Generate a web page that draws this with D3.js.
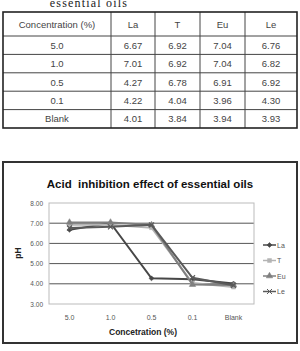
<!DOCTYPE html>
<html>
<head>
<meta charset="utf-8">
<script src="https://cdn.jsdelivr.net/npm/d3@7"></script>
<style>
body { margin: 0; background: #fff; }
svg { display: block; }
</style>
</head>
<body>
<svg width="300" height="351"></svg>
<script>
var svg = d3.select('svg');

//table + chart data
var concentrations = ['5.0', '1.0', '0.5', '0.1', 'Blank'];
var oils = ['La', 'T', 'Eu', 'Le'];
var la = [6.67, 7.01, 4.27, 4.22, 4.01];
var t  = [6.92, 6.92, 6.78, 4.04, 3.84];
var eu = [7.04, 7.04, 6.91, 3.96, 3.94];
var le = [6.76, 6.82, 6.92, 4.30, 3.93];
var yTicks = [3, 4, 5, 6, 7, 8];

var seriesList = [
    {name: 'La', values: la, color: '#474747', marker: 'diamond'},
    {name: 'T',  values: t,  color: '#b4b4b4', marker: 'square'},
    {name: 'Eu', values: eu, color: '#7f7f7f', marker: 'triangle'},
    {name: 'Le', values: le, color: '#5a5a5a', marker: 'cross'}
];

//caption, cut off at the top like the scan
svg.append('text')
    .attr('x', 89).attr('y', 7)
    .attr('text-anchor', 'middle')
    .attr('font-family', 'Liberation Serif, serif')
    .attr('font-size', 12)
    .attr('letter-spacing', 1.2)
    .attr('fill', '#222')
    .text('essential oils');

//table
var colX = [3, 111, 155, 200, 245, 297];
var rowY = [12, 36];
concentrations.forEach(function(c, i){ rowY.push(36 + (i + 1) * 18.4); });

var tbl = svg.append('g');
rowY.slice(1, -1).forEach(function(y){
    tbl.append('line').attr('x1', colX[0]).attr('x2', colX[5])
        .attr('y1', y).attr('y2', y).attr('stroke', '#444').attr('stroke-width', 1);
});
colX.slice(1, -1).forEach(function(x){
    tbl.append('line').attr('x1', x).attr('x2', x)
        .attr('y1', rowY[0]).attr('y2', rowY[rowY.length - 1]).attr('stroke', '#444').attr('stroke-width', 1);
});
tbl.append('rect').attr('x', colX[0]).attr('y', rowY[0])
    .attr('width', colX[5] - colX[0]).attr('height', rowY[rowY.length - 1] - rowY[0])
    .attr('fill', 'none').attr('stroke', '#222').attr('stroke-width', 1.6);

var header = ['Concentration (%)'].concat(oils);
var cells = [header];
concentrations.forEach(function(c, i){
    cells.push([c, la[i].toFixed(2), t[i].toFixed(2), eu[i].toFixed(2), le[i].toFixed(2)]);
});
cells.forEach(function(row, r){
    row.forEach(function(txt, k){
        tbl.append('text')
            .attr('x', (colX[k] + colX[k + 1]) / 2)
            .attr('y', (rowY[r] + rowY[r + 1]) / 2 + 3.5)
            .attr('text-anchor', 'middle')
            .attr('font-family', 'Liberation Sans, Arial, sans-serif')
            .attr('font-size', 9.5)
            .attr('fill', '#444')
            .text(txt);
    });
});

//chart frame
svg.append('rect').attr('x', 3).attr('y', 162).attr('width', 294).attr('height', 181)
    .attr('fill', '#fff').attr('stroke', '#333').attr('stroke-width', 2);

svg.append('text')
    .attr('x', 150).attr('y', 188)
    .attr('text-anchor', 'middle')
    .attr('font-family', 'Liberation Sans, Arial, sans-serif')
    .attr('font-weight', 'bold')
    .attr('font-size', 11.5)
    .attr('fill', '#111')
    .attr('xml:space', 'preserve')
    .text('Acid  inhibition effect of essential oils');

var x = d3.scaleBand().domain(concentrations).range([49, 254]);
var y = d3.scaleLinear().domain([3, 8]).range([304, 203]);

//grid lines
svg.append('g').selectAll('line')
    .data(yTicks.slice(1, -1))
    .enter()
    .append('line')
    .attr('x1', 49).attr('x2', 254)
    .attr('y1', function(d){ return y(d); })
    .attr('y2', function(d){ return y(d); })
    .attr('stroke', '#555').attr('stroke-width', 1);

svg.append('rect').attr('x', 49).attr('y', y(8)).attr('width', 205).attr('height', y(3) - y(8))
    .attr('fill', 'none').attr('stroke', '#bbb').attr('stroke-width', 1);

//y axis
var yAxis = svg.append('g')
    .attr('transform', 'translate(49,0)')
    .call(d3.axisLeft(y).tickValues(yTicks).tickSize(0).tickPadding(6).tickFormat(d3.format('.2f')));
yAxis.select('.domain').remove();
yAxis.selectAll('text').attr('font-family', 'Liberation Sans, Arial, sans-serif').attr('font-size', 6.5).attr('fill', '#555');

//x axis
var xAxis = svg.append('g')
    .attr('transform', 'translate(0,304)')
    .call(d3.axisBottom(x).tickSize(0).tickPadding(11));
xAxis.select('.domain').remove();
xAxis.selectAll('text').attr('font-family', 'Liberation Sans, Arial, sans-serif').attr('font-size', 7).attr('fill', '#555');

svg.append('text')
    .attr('x', 143).attr('y', 335)
    .attr('text-anchor', 'middle')
    .attr('font-family', 'Liberation Sans, Arial, sans-serif')
    .attr('font-weight', 'bold').attr('font-size', 8.5).attr('fill', '#222')
    .text('Concetration (%)');

svg.append('text')
    .attr('transform', 'translate(21,253) rotate(-90)')
    .attr('text-anchor', 'middle')
    .attr('font-family', 'Liberation Sans, Arial, sans-serif')
    .attr('font-weight', 'bold').attr('font-size', 8.5).attr('fill', '#222')
    .text('pH');

//marker shapes
function markerPath(type){
    if(type == 'diamond') return d3.symbol().type(d3.symbolDiamond2).size(16)();
    if(type == 'square') return d3.symbol().type(d3.symbolSquare).size(16)();
    if(type == 'triangle') return d3.symbol().type(d3.symbolTriangle).size(18)();
    return d3.symbol().type(d3.symbolTimes).size(18)();
}

var line = d3.line()
    .x(function(d, i){ return x(concentrations[i]) + x.bandwidth() / 2; })
    .y(function(d){ return y(d); });

seriesList.forEach(function(s){
    var g = svg.append('g');
    g.append('path')
        .attr('d', line(s.values))
        .attr('fill', 'none')
        .attr('stroke', s.color)
        .attr('stroke-width', 2);
    g.selectAll('.pt')
        .data(s.values)
        .enter()
        .append('path')
        .attr('class', 'pt')
        .attr('transform', function(d, i){
            return 'translate(' + (x(concentrations[i]) + x.bandwidth() / 2) + ',' + y(d) + ')';
        })
        .attr('d', markerPath(s.marker))
        .attr('fill', s.marker == 'cross' ? 'none' : s.color)
        .attr('stroke', s.color)
        .attr('stroke-width', s.marker == 'cross' ? 1.2 : 0.5);
});

//legend
var legend = svg.append('g');
seriesList.forEach(function(s, i){
    var ly = 245 + i * 15.5;
    legend.append('line').attr('x1', 263).attr('x2', 276).attr('y1', ly).attr('y2', ly)
        .attr('stroke', s.color).attr('stroke-width', 1.5);
    legend.append('path')
        .attr('transform', 'translate(269.5,' + ly + ')')
        .attr('d', markerPath(s.marker))
        .attr('fill', s.marker == 'cross' ? 'none' : s.color)
        .attr('stroke', s.color)
        .attr('stroke-width', s.marker == 'cross' ? 1 : 0.5);
    legend.append('text').attr('x', 277).attr('y', ly + 2.5)
        .attr('font-family', 'Liberation Sans, Arial, sans-serif')
        .attr('font-size', 7).attr('fill', '#555')
        .text(s.name);
});
</script>
</body>
</html>
